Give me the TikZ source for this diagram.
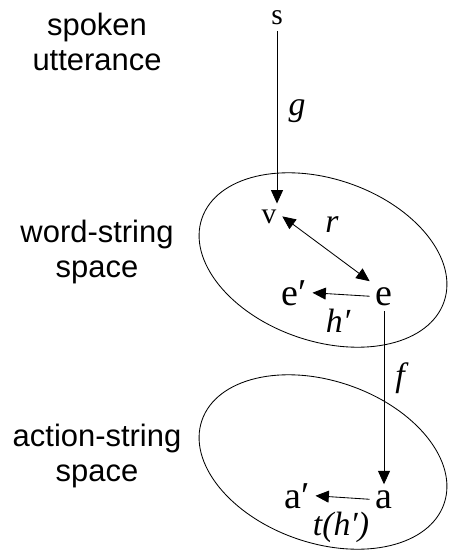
\documentclass[tikz,border=0pt]{standalone}
\usepackage{fontspec}
\setmainfont{Liberation Serif}
\newfontfamily\labelfont{Liberation Sans}
\usetikzlibrary{arrows.meta, shapes.geometric}
\tikzset{
  elem/.style={font=\fontsize{21}{21}\selectfont, inner sep=4pt, anchor=base},
  bigelem/.style={font=\fontsize{27}{27}\selectfont, inner sep=4pt, anchor=base},
  maplabel/.style={font=\fontsize{24}{24}\selectfont\itshape, inner sep=0pt},
  spacelabel/.style={font=\fontsize{22}{25}\selectfont\labelfont, align=center, inner sep=0pt},
  strspace/.style={draw, ellipse, minimum width=6.4cm, minimum height=4.05cm,
    inner sep=0pt, rotate=-19, line width=0.6pt},
  arrow/.style={-{Triangle[length=9.5pt, width=8.5pt]}, line width=0.6pt},
  dblarrow/.style={{Triangle[length=9.5pt, width=8.5pt]}-{Triangle[length=9.5pt, width=8.5pt]}, line width=0.6pt}
}

\begin{document}
\begin{tikzpicture}[x=0.025cm, y=-0.025cm]
  \useasboundingbox (0,0) rectangle (449,550);

  % String spaces
  \node[strspace] (wordspace) at (323,260) {};
  \node[strspace] (actionspace) at (323,462) {};

  % Side labels
  \node[spacelabel] (lspoken) at (97,42) {spoken\\utterance};
  \node[spacelabel] (lword) at (97,252) {word-string\\space};
  \node[spacelabel] (laction) at (97,456) {action-string\\space};

  % Elements
  \node[elem] (s) at (277,25) {s};
  \node[elem] (v) at (269,223) {v};
  \node[bigelem] (e) at (384,305) {e};
  \node[bigelem] (ep) at (294,305) {e′};
  \node[bigelem] (a) at (384,508) {a};
  \node[bigelem] (ap) at (297,508) {a′};

  % Maps
  \draw[arrow] (s.south) -- (s |- v.north);
  \draw[dblarrow] (v.east) -- (e.north west);
  \draw[arrow] (e.west) -- (ep.east);
  \draw[arrow] (e.south) -- (a.north);
  \draw[arrow] (a.west) -- (ap.east);

  \node[maplabel] (lg) at (297,111) {g};
  \node[maplabel] (lr) at (332,225) {r};
  \node[maplabel] (lh) at (338,321) {h′};
  \node[maplabel] (lf) at (400,378) {f};
  \node[maplabel] (lt) at (341,527) {t(h′)};
\end{tikzpicture}
\end{document}
